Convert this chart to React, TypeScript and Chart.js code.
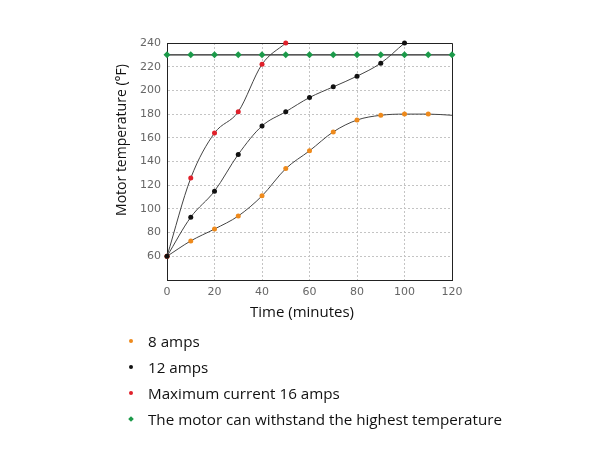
import React, { useEffect, useRef } from "react";
import { Chart, registerables } from "chart.js";

Chart.register(...registerables);

const timeMinutes = [0, 10, 20, 30, 40, 50, 60, 70, 80, 90, 100, 110, 120];
const amps8 = [60, 73, 83, 94, 111, 134, 149, 165, 175, 179, 180, 180, 179];
const amps12 = [60, 93, 115, 146, 170, 182, 194, 203, 212, 223, 240];
const amps16 = [60, 126, 164, 182, 222, 240];
const maxTemp = [230, 230, 230, 230, 230, 230, 230, 230, 230, 230, 230, 230, 230];
const yTicks = [60, 80, 100, 120, 140, 160, 180, 200, 220, 240];
const xTitle = "Time (minutes)";
const yTitle = "Motor temperature (°F)";

const legendItems = [
  { label: "8 amps", color: "#ee8a1c", shape: "dot" },
  { label: "12 amps", color: "#111111", shape: "dot" },
  { label: "Maximum current 16 amps", color: "#e0202a", shape: "dot" },
  { label: "The motor can withstand the highest temperature", color: "#1c9a4a", shape: "diamond" },
];

const toXY = (vals: number[]) => vals.map((v, i) => ({ x: timeMinutes[i], y: v }));

const boxPlugin = {
  id: "box",
  beforeDatasetsDraw(chart: any) {
    const { ctx, chartArea } = chart;
    ctx.save();
    ctx.strokeStyle = "#222";
    ctx.lineWidth = 1;
    ctx.beginPath();
    ctx.moveTo(chartArea.left, chartArea.top + 0.5);
    ctx.lineTo(chartArea.right + 0.5, chartArea.top + 0.5);
    ctx.lineTo(chartArea.right + 0.5, chartArea.bottom);
    ctx.stroke();
    ctx.restore();
  },
};

export default function App() {
  const ref = useRef<HTMLCanvasElement>(null);
  useEffect(() => {
    if (!ref.current) return;
    const lineCol = "#444";
    const chart = new Chart(ref.current, {
      type: "line",
      data: {
        datasets: [
          {
            label: "12 amps",
            data: toXY(amps12),
            borderColor: lineCol,
            borderWidth: 1,
            pointBackgroundColor: legendItems[1].color,
            pointBorderWidth: 0,
            pointRadius: 2.5,
            cubicInterpolationMode: "monotone",
            clip: false,
          },
          {
            label: "Maximum current 16 amps",
            data: toXY(amps16),
            borderColor: lineCol,
            borderWidth: 1,
            pointBackgroundColor: legendItems[2].color,
            pointBorderWidth: 0,
            pointRadius: 2.5,
            cubicInterpolationMode: "monotone",
            clip: false,
          },
          {
            label: "8 amps",
            data: toXY(amps8),
            borderColor: lineCol,
            borderWidth: 1,
            pointBackgroundColor: legendItems[0].color,
            pointBorderWidth: 0,
            pointRadius: amps8.map((_, i) => (i === amps8.length - 1 ? 0 : 2.5)),
            cubicInterpolationMode: "monotone",
            clip: false,
          },
          {
            label: "The motor can withstand the highest temperature",
            data: toXY(maxTemp),
            borderColor: "#222",
            borderWidth: 1.2,
            pointBackgroundColor: legendItems[3].color,
            pointBorderWidth: 0,
            pointStyle: "rectRot",
            pointRadius: 3.5,
            tension: 0,
            clip: false,
          },
        ],
      },
      options: {
        animation: false,
        responsive: false,
        maintainAspectRatio: false,
        layout: { padding: { left: 111, right: 153, top: 43, bottom: 132 } },
        plugins: { legend: { display: false }, tooltip: { enabled: false } },
        scales: {
          x: {
            type: "linear",
            min: 0,
            max: 120,
            afterFit: (s: any) => { s.height = 40; },
            ticks: {
              stepSize: 10,
              padding: 6,
              color: "#666",
              font: { family: "DejaVu Sans", size: 11 },
              maxRotation: 0,
            },
            grid: { color: "#c4c4c4", drawTicks: false, lineWidth: 1 },
            border: { color: "#222", dash: [2, 2], width: 1 },
          },
          y: {
            type: "linear",
            min: 40,
            max: 240,
            afterFit: (s: any) => { s.width = 56; },
            afterBuildTicks: (s: any) => { s.ticks = yTicks.map((v) => ({ value: v })); },
            ticks: {
              padding: 6,
              color: "#666",
              font: { family: "DejaVu Sans", size: 11 },
            },
            grid: { color: "#c4c4c4", drawTicks: false, lineWidth: 1 },
            border: { color: "#222", dash: [2, 2], width: 1 },
          },
        },
      },
      plugins: [boxPlugin],
    });
    return () => chart.destroy();
  }, []);

  return (
    <div style={{ position: "fixed", left: 0, top: 0, width: 605, height: 452, background: "#fff" }}>
      <canvas ref={ref} width={605} height={452} style={{ position: "absolute", left: 0, top: 0 }} />
      <div
        style={{
          position: "absolute",
          left: 302,
          top: 311,
          transform: "translate(-50%, -50%)",
          fontFamily: "Open Sans",
          fontSize: 15,
          color: "#111",
          whiteSpace: "nowrap",
        }}
      >
        {xTitle}
      </div>
      <div
        style={{
          position: "absolute",
          left: 120,
          top: 140,
          transform: "translate(-50%, -50%) rotate(-90deg)",
          fontFamily: "Open Sans",
          fontSize: 14,
          color: "#111",
          whiteSpace: "nowrap",
        }}
      >
        {yTitle}
      </div>
      {legendItems.map((it, i) => (
        <div
          key={it.label}
          style={{
            position: "absolute",
            left: 126,
            top: 330 + i * 26,
            height: 22,
            display: "flex",
            alignItems: "center",
            fontFamily: "Open Sans",
            fontSize: 15.2,
            color: "#111",
            whiteSpace: "nowrap",
          }}
        >
          <span
            style={{
              display: "inline-block",
              width: 4,
              height: 4,
              background: it.color,
              borderRadius: it.shape === "diamond" ? 0 : 2,
              transform: it.shape === "diamond" ? "rotate(45deg)" : "none",
              marginLeft: 3,
              marginRight: 15,
            }}
          />
          <span>{it.label}</span>
        </div>
      ))}
    </div>
  );
}
